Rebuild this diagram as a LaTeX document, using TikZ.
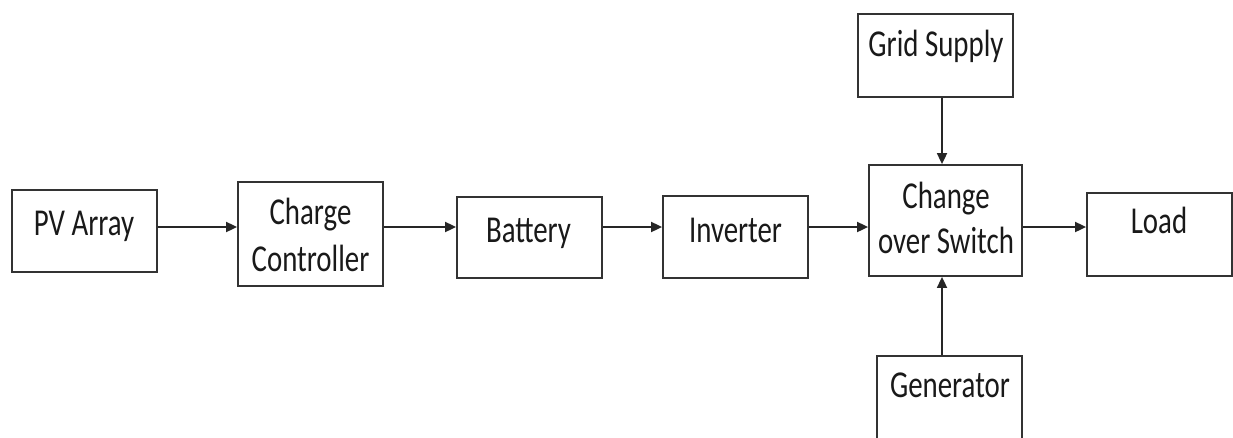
\documentclass[tikz,border=0pt]{standalone}
\usepackage{fontspec}
\setmainfont{Carlito}
\usetikzlibrary{arrows.meta}
\newcommand{\sq}[1]{\scalebox{0.76}[1]{#1}}
\begin{document}
\begin{tikzpicture}[x=1pt,y=-1pt,
  blk/.style={draw=black!80, line width=1.8pt, inner sep=0pt},
  txt/.style={anchor=base, inner sep=0pt, font=\fontsize{38}{44}\selectfont, text=black!90},
  arr/.style={draw=black!85, line width=1.8pt, -{Triangle[length=11pt,width=10pt]}}]
\useasboundingbox (0,0) rectangle (1233,437);
\clip (0,0) rectangle (1233,437);
% boxes
\node[blk, minimum width=145pt, minimum height=82pt] (pv) at (84.5,231) {};
\node[blk, minimum width=145pt, minimum height=104pt] (cc) at (310.5,234) {};
\node[blk, minimum width=145pt, minimum height=81pt] (bat) at (529.5,237.5) {};
\node[blk, minimum width=145pt, minimum height=82pt] (inv) at (735.5,237) {};
\node[blk, minimum width=155pt, minimum height=83pt] (gs) at (935.5,55.5) {};
\node[blk, minimum width=153pt, minimum height=111pt] (cs) at (945.5,220.5) {};
\node[blk, minimum width=145pt, minimum height=83pt] (ld) at (1159.5,234.5) {};
\node[blk, minimum width=145pt, minimum height=90pt] (gen) at (949.5,401) {};
% texts
\node[txt] (pvt) at (84,235) {\sq{PV Array}};
\node[txt] (cct1) at (310.5,224) {\sq{Charge}};
\node[txt] (cct2) at (310.5,271) {\sq{Controller}};
\node[txt] (batt) at (528.5,242) {\sq{Battery}};
\node[txt] (invt) at (735.5,242) {\sq{Inverter}};
\node[txt] (gst) at (936,56) {\sq{Grid Supply}};
\node[txt] (cst1) at (946,208) {\sq{Change}};
\node[txt] (cst2) at (946,253) {\sq{over Switch}};
\node[txt] (ldt) at (1159,233) {\sq{Load}};
\node[txt] (gent) at (950,397) {\sq{Generator}};
% connectors
\coordinate (row) at (0,227);
\coordinate (col) at (942,0);
\draw[arr] (pv.east |- row) -- (cc.west |- row);
\draw[arr] (cc.east |- row) -- (bat.west |- row);
\draw[arr] (bat.east |- row) -- (inv.west |- row);
\draw[arr] (inv.east |- row) -- (cs.west |- row);
\draw[arr] (cs.east |- row) -- (ld.west |- row);
\draw[arr] (gs.south -| col) -- (cs.north -| col);
\draw[arr] (gen.north -| col) -- (cs.south -| col);
\end{tikzpicture}
\end{document}
